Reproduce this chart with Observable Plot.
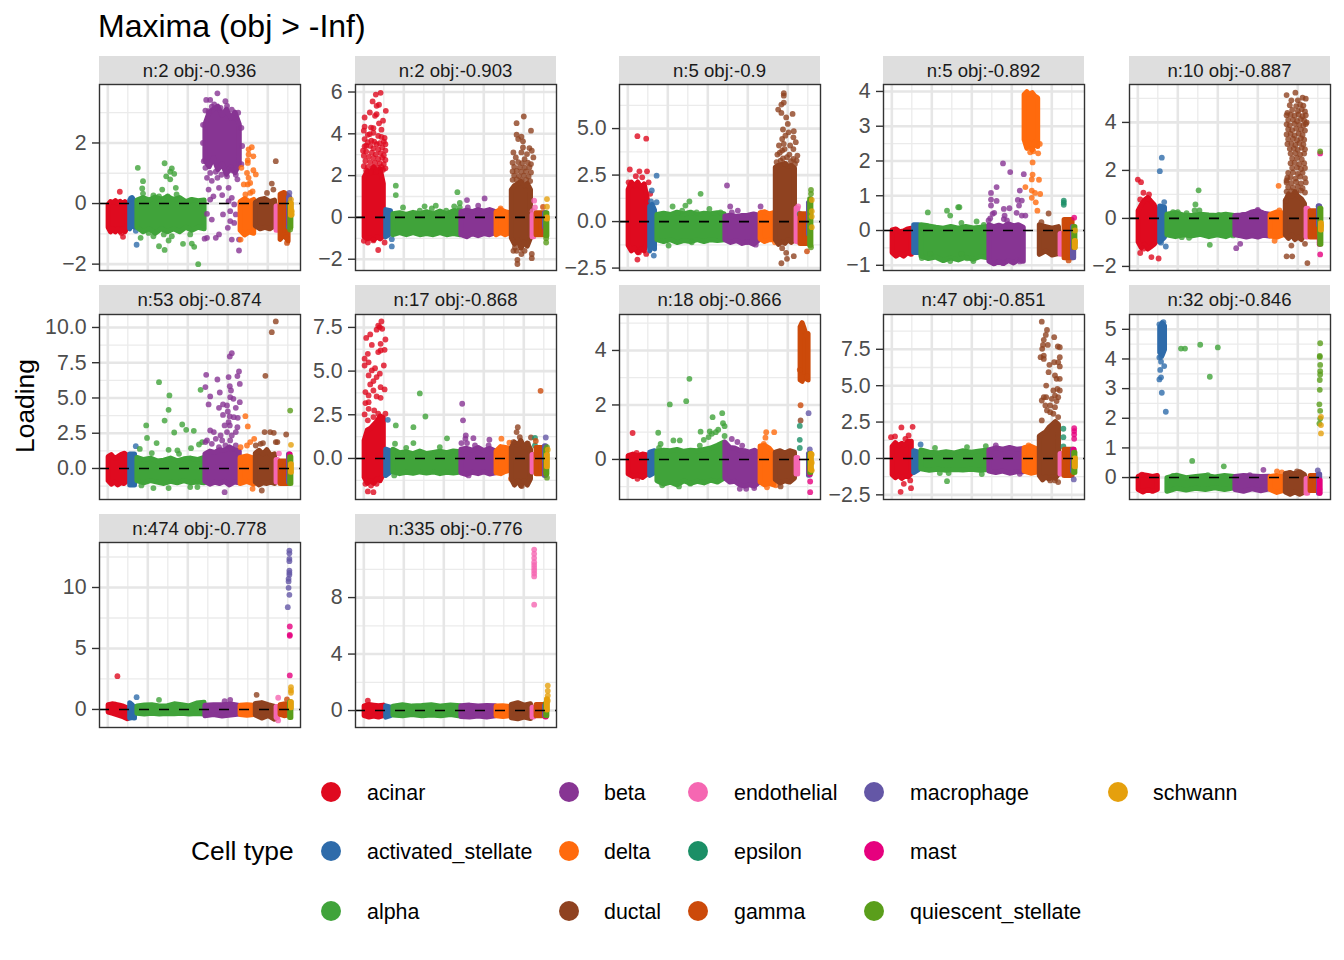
<!DOCTYPE html>
<html><head><meta charset="utf-8">
<script src="https://cdn.jsdelivr.net/npm/d3@7"></script>
<script src="https://cdn.jsdelivr.net/npm/@observablehq/plot@0.6"></script>
<style>
html,body{margin:0;padding:0;background:#fff;overflow:hidden}
#page{position:relative;width:1344px;height:960px;font-family:"Liberation Sans",Arial,sans-serif;color:#000}
.abs{position:absolute;white-space:nowrap}
.strip{position:absolute;background:#dedede;color:#1a1a1a;font-size:18.6px;text-align:center;width:201px}
.sw{position:absolute;width:20px;height:20px;border-radius:50%}
svg{overflow:visible}
</style></head><body><div id="page"></div>
<script>
const types=["acinar","activated_stellate","alpha","beta","delta","ductal","endothelial","epsilon","gamma","macrophage","mast","quiescent_stellate","schwann"];
const colors=["#DF0A1F","#2E6BAA","#40A33A","#873593","#FF6A0D","#8F4220","#F567B2","#1B8F66","#CC4A0A","#6457A6","#E6007E","#5A9E1B","#E5A00D"];
const typeStart=[1,28,37,122,166,185,211,214,216,226.5,227.5,228,229];
const typeEnd=[25,34,121,165,183,209,213,215,226,228,228.5,229.5,230];
const stripLabels=["n:2 obj:-0.936","n:2 obj:-0.903","n:5 obj:-0.9","n:5 obj:-0.892","n:10 obj:-0.887","n:53 obj:-0.874","n:17 obj:-0.868","n:18 obj:-0.866","n:47 obj:-0.851","n:32 obj:-0.846","n:474 obj:-0.778","n:335 obj:-0.776"];
const panelLeft=[99,355,619,883,1129,99,355,619,883,1129,99,355];
const panelTop=[84,84,84,84,84,314,314,314,314,314,542,542];
const panelHeight=[186,186,186,186,186,185,185,185,185,185,185,185];
const stripHeight=[28,28,28,28,28,29,29,29,29,29,28,28];
const yDomains=[[-2.21,3.93],[-2.54,6.36],[-2.63,7.37],[-1.15,4.2],[-2.17,5.58],[-2.2,10.92],[-2.35,8.24],[-1.47,5.32],[-2.82,9.89],[-.74,5.5],[-1.48,13.69],[-1.2,11.9]];
const yTicks=[[-2,0,2],[-2,0,2,4,6],[-2.5,0,2.5,5],[-1,0,1,2,3,4],[-2,0,2,4],[0,2.5,5,7.5,10],[0,2.5,5,7.5],[0,2,4],[-2.5,0,2.5,5,7.5],[0,1,2,3,4,5],[0,5,10],[0,4,8]];
const yDecimals=[0,0,1,0,0,1,1,0,1,0,0,0];
const xMajor=[0,50,100,150,200];
const xMinor=[25,75,125,175,225];

// Dense bands per cell type: pairs of low, high along the type's stretch of cells
const bands1=[[-.8,-.05,-.95,.05,-.85,.02,-.95,.08,-.85,0,-.95,.06,-.85,-.02,-.95,.05,-.8,-.02],[-.85,.1,-.7,.18,-.8,.05],[-.8,.1,-.95,.18,-.85,.1,-1,.2,-.85,.12,-.95,.22,-.85,.12,-.95,.18,-.8,.05,-.9,.12,-.8,.08,-.85,.1],[1.4,2.6,1.2,3,1.5,3.1,1.1,3.2,1.3,2.9,.95,3.1,1.2,2.8,1,3,1.3,2.6],[-.9,.05,-1.05,.15,-.95,.05,-1,.12],[-.75,.02,-.85,.12,-.8,.15,-.85,.05,-.75,.1],[-.9,-.1],null,[-1.2,.3,-1.05,.35,-1.25,.25],[-.8,.2],[-.7,-.2],[-.8,0],[-.4,0]];
const bands2=[[-.95,1.9,-1.05,2.2,-1,2.1,-1.1,2.4,-.95,2.2,-1.05,2.3,-.9,1.6],[-.95,.35,-.8,.3],[-.85,.15,-.75,.2,-.85,.12,-.75,.22,-.85,.15,-.8,.25,-.85,.15,-.75,.28,-.85,.15,-.8,.3,-.85,.3],[-.85,.25,-.95,.32,-.8,.25,-.9,.35,-.8,.28,-.85,.35,-.75,.25],[-.85,.25,-.75,.35,-.85,.25,-.75,.2],[-1,1.3,-1.3,1.5,-1.1,1.6,-1.5,1.7,-1.2,1.5,-1.4,1.6,-1,1.3],[-.95,.1],null,[-.85,.2],[-.5,.2],[-.8,-.5],[-.9,.2],[-.1,0]];
const bands3=[[-1.3,1.7,-1.6,2.1,-1.45,1.9,-1.7,2.1,-1.5,1.8,-1.6,2,-1.1,1.2],[-1.6,.8,-1.3,.9,-1.5,.6],[-1,.35,-1.1,.42,-1,.35,-1.15,.48,-1.05,.38,-1.1,.48,-1,.35,-1.1,.42,-1,.4,-1.05,.45,-1,.4],[-1,.28,-1.15,.32,-1.05,.25,-1.2,.3,-1.1,.32,-1.25,.38,-1,.3],[-.95,.45,-1.1,.5,-1,.38,-1,.45],[-1,2.9,-1.25,3,-1.1,3.05,-1.2,3.1,-1,2.95,-1.15,3,-1,2.85],[-1.1,.7],null,[-1.2,.4],[-.7,1],[-.1,.4],[-1.3,1.2],null];
const bands4=[[-.65,0,-.75,.03,-.68,-.05,-.75,-.03,-.65,.03,-.7,.05],[-.65,.15],[-.75,.15,-.82,.12,-.78,.08,-.88,.05,-.8,.1,-.86,.05,-.78,.1,-.84,.06,-.76,.08,-.8,.1],[-.9,.15,-.97,.1,-.9,.14,-.96,.1,-.88,.18,-.95,.12,-.85,.15,-.9,.08],[2.6,3.9,2.35,3.98,2.5,3.9,2.3,3.95,2.55,3.85,2.4,3.8],[-.7,.15,-.6,.1,-.72,.05,-.68,.1],[-.7,-.1],null,[-.8,.3],[-.8,.1],[-.5,-.1],[-.5,.1],[-.5,-.3]];
const bands5=[[-1,.3,-1.25,.55,-1.1,.75,-1.3,.85,-1.2,.7,-1.1,.55,-.9,.25],[-1,.5,-.8,.45],[-.7,.15,-.78,.22,-.7,.12,-.75,.1,-.68,.15,-.78,.12,-.7,.1,-.78,.15,-.65,.1],[-.7,.1,-.75,.12,-.8,.15,-.75,.25,-.8,.3,-.72,.2,-.75,.15],[-.75,.15,-.8,.25,-.7,.2],[-.7,.7,-.85,1,-.7,.9,-.9,1.1,-.8,.9,-.9,.8,-.7,.6],[-.8,.4],null,[-.8,.3],[-.3,.5],[-1.1,-.8],[-1.1,.4],[-.5,-.2]];
const bands6=[[-.9,.8,-1.15,.95,-1,.7,-1.2,.8,-1.05,.95,-1.1,1.05,-.9,.9],[-1.2,1],[-.9,.75,-1.05,.6,-.9,.7,-1,.5,-1.1,.55,-.95,.7,-1.05,.5,-.9,.65,-1.05,.7,-1,.6,-1.05,.75],[-.95,1,-1.15,1.2,-1,1.1,-1.1,1.3,-.95,1.25,-1.2,1.5,-1,1.3,-1.05,1.2],[-1.1,.75,-.95,.85,-1.15,.7],[-1,1.05,-1.2,1.25,-1.05,1,-1.1,1.3,-1,.9,-1.1,1],[-1,.6],null,[-1.1,.5],[-1,1],[-.5,1],[-1.1,.8],[-.3,.3]];
const bands7=[[-1.1,1,-1.45,1.6,-1.3,1.7,-1.45,1.9,-1.2,2.1,-1.3,2.4,-.9,2.3],[-1,.5,-.8,.4],[-.8,.5,-.9,.3,-.82,.35,-.88,.25,-.8,.4,-.86,.25,-.8,.32,-.9,.38,-.82,.3,-.86,.4,-.8,.35],[-.85,.5,-.95,.55,-.82,.45,-.9,.6,-.8,.42,-.92,.55,-.85,.4],[-.85,.4,-.9,.65,-.78,.6,-.7,.55],[-1.2,.6,-1.55,.9,-1.3,.75,-1.6,1,-1.3,.6,-1.55,.85,-1.2,.5],[-.8,.2],null,[-.9,.6],[-1,.7],[-.9,-.3],[-.9,.5],[-.5,.2]];
const bands8=[[-.55,.12,-.65,.18,-.6,.12,-.68,.18,-.55,.15],[-.6,.25,-.5,.3],[-.8,.28,-.92,.32,-.85,.3,-.95,.35,-.8,.28,-.9,.32,-.82,.3,-.88,.35,-.78,.4,-.85,.5,-.7,.62],[-.7,.62,-.85,.42,-.82,.4,-.95,.32,-1,.3,-.95,.25,-1,.32,-.85,.22],[-.85,.48,-.95,.5,-.9,.4,-.95,.2],[-.75,.25,-.88,.3,-.8,.22,-.85,.3,-.7,.25],[-.55,.05],null,[2.9,4.85,2.85,5,3,4.8,2.95,4.55,2.9,4.6],[-.6,.2],[-.5,-.3],[-.5,.2],[-.4,.2]];
const bands9=[[-1.15,.8,-1.35,1.05,-1.2,.85,-1.4,1,-1.25,.9,-1.3,1.15,-1.05,1.15],[-1,.5,-.8,.4],[-.75,.55,-.85,.4,-.78,.35,-.85,.42,-.8,.35,-.82,.5,-.78,.4,-.85,.48,-.8,.55],[-.9,.55,-1,.7,-.9,.6,-1.05,.72,-.95,.6,-.95,.65],[-.9,.7,-1.05,.8,-.95,.6],[-1.2,1.5,-1.5,1.65,-1.3,1.8,-1.45,2.1,-1.3,2.3,-1.4,2.5,-1.1,2.3],[-1.1,.3],null,[-1.2,.6],[-.9,.6],[-.6,.6],[-1,.4],[-.6,0]];
const bands10=[[-.42,.02,-.5,.08,-.42,.05,-.48,.02,-.42,.05],[4.2,5.05,4.1,5.2,4.3,5.1],[-.48,-.02,-.38,.06,-.44,-.02,-.38,.02,-.42,.05,-.36,0,-.42,.05,-.36,.02],[-.42,.02,-.48,.05,-.4,.04,-.46,.02,-.4,.03],[-.42,.02,-.52,.05,-.45,0],[-.5,.12,-.58,.15,-.5,.1,-.58,.18,-.5,.08],[-.55,-.05],null,[-.45,.05],[-.55,.1],[-.55,-.1],null,null];
const bands11=[[-.25,.35,-.35,.42,-.45,.38,-.55,.3,-.65,.22,-.8,.1],[-.75,.5,-.7,.35,-.75,.1],[-.35,.25,-.42,.32,-.35,.35,-.42,.25,-.38,.25,-.4,.42,-.35,.35,-.42,.25,-.38,.48,-.42,.55],[-.55,.3,-.45,.35,-.58,.35,-.5,.4,-.42,.28],[-.45,.3,-.52,.35,-.45,.3],[-.5,.45,-.75,.52,-.55,.35,-.85,.2],[-.7,.2],null,[-.45,.35,-.55,.42,-.5,.35],null,null,[-.7,.6],[.1,.6]];
const bands12=[[-.4,.3,-.5,.4,-.42,.35,-.5,.3,-.4,.35],[-.5,.3,-.4,.2],[-.35,.28,-.4,.38,-.32,.28,-.4,.32,-.35,.38,-.4,.28,-.32,.35,-.42,.3],[-.45,.3,-.5,.35,-.42,.28,-.5,.32,-.4,.3],[-.4,.28,-.45,.3,-.4,.25],[-.55,.4,-.62,.52,-.5,.35,-.6,.45],[-.5,.2],null,[-.4,.4],[-.4,.3],[-.5,-.1],[-.4,.5],[0,.8]];

// Individually read points: x (cell position), y (loading) pairs
const dots1={acinar:[15,.39,19,-1.1,17,-.97],activated_stellate:[29,.17,36,-1.36,35,-.9],
alpha:[37.5,1.18,44,.74,43,.5,44,.33,71,1.33,80,1.16,78,1.05,83,.98,73,.9,78,.8,85,.52,68,.46,57,.27,75,.24,86,.3,64,.24,103,.1,41,-1.13,64,-1.41,71,-1.53,76,-1.22,94,-1.33,105,-1.32,108,-1.43,113,-2,57,-1.08,80,-1.08,103,-1.02,51,-.97,70,-1.02],
beta:[137,3.64,123,3.42,128,3.42,147,3.38,133,3.27,149,3.22,141,3.16,122,3.07,126,3.05,163,3,160,2.83,122,1.18,128,1.01,124,.85,137,.85,149,.9,126,.46,139,.52,151,.52,162,.8,132,.24,128,.13,143,.28,155,.19,151,.08,158,-.03,124,-.34,144,-.36,153,-.25,160,-.36,130,-.53,153,-.58,158,-.64,150,-.8,139,-1.02,135,-1.13,124,-1.13,121,-1.16,155,-1.19,164,-1.19,164,-1.55,135,1.05,142,.95,155,1.1,160,.95,130,.75,120,1.4,167,1.3,168,1.9,119,2,119,2.6,167,2.5,130,3.2,155,3.1],
delta:[176,1.79,180,1.86,182,1.56,176,1.62,175,1.43,175,1.34,167,1.18,182,1.1,174,1.01,185,.96,176,.85,178,.68,170,.63,175,.63,166,-1.19,172,.3,178,.35,181,.4],
ductal:[210,1.4,205,.66,207,.46,199,.35],gamma:[224,-1.3,223,-1.1],macrophage:[227,.35],quiescent_stellate:[228,-.86],schwann:[229,.13,230,-.25,230,-.36]};
const dots2={acinar:[21,5.96,15,5.88,11,5.55,19,5.39,16,5.34,27.5,5.1,7.5,5.02,1,4.78,16,4.94,14,4.86,24,4.63,19,4.5,1,4.34,12,4.27,0,4.15,22,4.2,7.5,3.99,18,3.9,26,3.8,1,3.75,9.5,3.67,16,3.5,3,3.43,27,3.5,12,4.05,22,3.85,5,3.95,9,4.3,-1,3.19,18,-1.56,0,-1.12,5,-1.2,26,-1.2,12,-1.1,
5,3.6,13,3.62,20,3.55,25,3.62,1,3.4,8,3.42,12,3.3,18,3.25,23,3.35,27,3.2,3,3.15,10,3.1,15,3.02,21,3.08,25,2.98,0,2.95,6,2.9,12,2.85,18,2.8,23,2.85,27,2.75,2,2.7,8,2.65,14,2.62,20,2.58,25,2.55,0,2.45,5,2.42,11,2.4,17,2.38,22,2.42,27,2.35,3,2.25,9,2.2,15,2.18,24,2.28],
activated_stellate:[35,-1.04,35,-1.39],alpha:[40,1.52,40,1.07,117,1.21,120,.69,49,.48,76,.53,85,.43,90,.56,113,.53,70,.32,103,.32,120,.48],beta:[129,.83,151,.91,143,.56,130,.48],delta:[171,.43],
ductal:[200,4.83,191,4.51,209,4.15,191,3.96,197,3.86,193,3.75,199,3.64,199,3.35,207,3.32,210,3.19,187,3.11,197,3.11,204,3.03,190,2.87,212,2.87,201,2.79,187,-1.6,191,-1.6,197,-1.75,210,-1.95,192,-2.03,192,-2.23,189,-1.44,201,-1.6,210,-1.75,
186,2.62,193,2.65,198,2.6,205,2.62,209,2.55,188,2.42,195,2.4,201,2.38,207,2.4,186,2.2,191,2.22,197,2.18,203,2.2,209,2.15,188,2,194,1.98,200,2,206,1.96,186,1.8,191,1.82,197,1.78,203,1.8,208,1.74],
endothelial:[213,.8,214,.48,211,.3],gamma:[224,.5],quiescent_stellate:[228,-1.2,228,-1],schwann:[229,.88,229,.51]};
const dots3={acinar:[12,4.59,23,4.46,2.5,2.8,14.5,2.7,24,2.7,10,2.44,18,2.38,26,2.11,1,2.11,12,-2.04,23,-1.74,14,-1.65,28,1.49],activated_stellate:[36,2.47,30,1.67,29,1.09,36,1.04,32.5,-1.83],
alpha:[91,1.49,77,1.08,72,.86,56,.81,68,.59,102,.68,86,.5,51,-1.29,80,-1.11,62,.45,116,.5],beta:[124,1.94,128,.81,137.5,.59,166,.81,130,.5,160,-1.24,149,-1.1],delta:[184,-1.11],
ductal:[195,6.9,195,6.77,195,6.4,192,6.29,188,6.02,192,5.84,206,5.79,198,5.6,200,5.25,194,4.95,207.5,4.86,201,4.8,197,4.62,193,4.44,207,4.53,210,4.27,195,4.18,189,4.09,203,4.09,207,3.9,193,3.82,187,3.6,212,3.55,199,3.46,207,3.37,191,3.28,211,3.28,197,3.1,193,-1.43,198,-1.68,199,-2,207.5,-1.86,192,-2.24,190,3.7,196,3.9,202,3.6,209,3.1,186,3.2,194,3.4,204,3.25],
endothelial:[213,.81,214,-1.1],epsilon:[215,.41],gamma:[224,-1.6],quiescent_stellate:[229,1.7,229,1.49,229,-1.38],schwann:[230,1.16,230,.56,230,.27,230,-.3]};
const dots4={alpha:[45,.52,69,.57,73,.43,83,.67,84.5,.67,106,.26,115,.16,87,.22,37.5,-.79,48,-.67,73,-.88,102,-.88,94,-.8,87,-.67],
beta:[139,1.93,148,1.68,165,1.62,131,1.25,124,1.08,160,1.15,124,.89,131,.85,157.5,.88,162.5,.86,124,.72,159,.72,140,.62,147,.64,128,.51,156,.51,141,.43,123,.35,126,.48,162.5,.43,167,.43,140,.33,144,.29,128,-.94,139,-.94,160,-.89,121,.29],
delta:[176,1.96,176,1.61,175,1.47,184,1.46,167,1.25,175,1.15,179,1.08,185.5,1.05,175,.94,180,.81,182,.57,173,2.25,177,2.28,183,2.22,169,2.44,185,2.49,175,2.35],ductal:[196,.49,187,.24],epsilon:[215,.86,215,.8,215,.74],gamma:[221,-.86],mast:[228,.37],schwann:[229,0,229,-.33]};
const dots5={acinar:[0,1.62,4,1.51,7,1.07,14,1,3,.79,13,.82,17,-1.61,26,-1.67,3,-1.44,7,-1.26],activated_stellate:[30,2.53,27.5,1.97,33,.68,29,-1.01,35,-1.17],alpha:[76,1.17,72,.58,71,.33,77,.33,44,.26,50,.26,61,.22,101,.15,90,-1.1,55,-.78,64,-.81,119,-.71],beta:[123,-1.24,128,-1.06,150,.36,146,.26,132,.15],delta:[176,1.36,171,-.93,177,.33],
ductal:[186,5.14,197,5.24,192,4.92,206,5.03,210,4.99,200,4.92,187,4.4,211,4,186,1.58,185,.75,192,-1.13,186,-1.58,193,-1.58,212,-1.86,209,-1.06,
190,4.72,198,4.68,203,4.75,207,4.7,193,4.52,200,4.48,205,4.55,209,4.46,186,4.3,191,4.32,196,4.28,201,4.33,206,4.26,210,4.3,188,4.1,194,4.12,199,4.06,204,4.14,208,4.08,186,3.92,190,3.88,196,3.94,202,3.9,207,3.87,210,3.93,188,3.72,193,3.68,198,3.74,204,3.7,209,3.66,186,3.5,191,3.52,196,3.46,201,3.54,206,3.48,188,3.3,194,3.32,199,3.26,204,3.34,208,3.28,187,3.1,192,3.12,197,3.06,202,3.14,207,3.08,190,2.9,195,2.92,200,2.86,205,2.94,209,2.88,191,2.7,197,2.72,203,2.66,208,2.7,193,2.5,199,2.52,205,2.46,191,2.3,196,2.32,202,2.26,208,2.3,193,2.1,199,2.12,204,2.06,209,2.1,188,1.9,194,1.92,200,1.86,206,1.9,187,1.7,191,1.72,197,1.66,203,1.74,209,1.68,186,1.5,192,1.48,198,1.52,204,1.46,210,1.5,188,1.3,194,1.28,200,1.32,206,1.26,186,1.12,192,1.14,198,1.1,204,1.16,209,1.08],endothelial:[213,.37],macrophage:[226,.51],mast:[228,2.71,228,-1.5],quiescent_stellate:[228,2.79],schwann:[229,-.3]};
const dots6={activated_stellate:[35,1.58],alpha:[64,6.12,77,5.18,116,5.58,76,4.16,71,3.4,48,3.05,49,2.17,93,3.12,83,2.55,98,2.74,107.5,2.67,61,1.8,104,1.44,76,1.32,87,1.28,114,1.7,118,1.87,55,1.09,40,1.39,42,-1.2,76,-1.39,57,-1.39,103,-1.32,112,-1.32,89,1.04],
beta:[155,8.18,152.5,7.94,164,6.88,123,6.64,151,6.48,137,6.31,162,6.55,165,6,122,5.77,152.5,5.84,154,5.53,140,5.39,128,5.11,153,5.06,157,4.94,126,4.54,165,4.7,139,4.3,144,4.54,149,4.47,160,4.3,150,4.04,144,3.8,152.5,3.69,157.5,3.64,162.5,3.59,151,3.29,152.5,3.05,146,3.05,162,2.93,128,2.7,132.5,2.58,149,2.58,160,2.58,141,2.34,155,2.34,124,1.99,135,2.1,143,1.99,153,1.99,122,1.87,130,1.75,147,1.63,160,1.63,139,1.51,155,1.39,146,-1.68],
delta:[172,3.71,175,2.98,183,2.1,178,1.87,166,1.51,174,1.63,181,-1.44],ductal:[210,10.43,205,9.67,197,6.57,196,2.58,203,2.58,207.5,2.53,210,1.87,212,1.87,185,1.63,191,1.75,194,1.8,192.5,-1.56,223,2.41],endothelial:[214,1.06],quiescent_stellate:[228,4.11],schwann:[229,1.68]};
const dots7={acinar:[22,7.84,20,7.52,23,7.42,16,7.37,18,7.6,8,7.1,3,6.9,27,6.81,10,6.5,21,6.56,26,6.22,18,6.09,21,6.18,5,5.99,1,5.71,6,5.5,1,5.32,25,5.32,14,5.17,10,5.04,20,4.85,6,4.75,16,4.66,12,4.43,8,4.24,21,4.08,26,3.95,2,3.8,12,3.89,16,3.55,6,3.61,21,3.47,2,3.17,6,3.22,6,2.84,13,2.75,1,2.52,18,2.56,5,2.18,12,2.37,27,2.56,5,-1.89,12,-1.93,2,-1.45,9,-1.55,16,-1.45],activated_stellate:[30,2.21],
alpha:[70,3.72,77,2.4,40,1.89,62,1.79,104,1.15,39,.84,62,.88,53,.61,95,.65,38,-.97],beta:[123,3.13,124,2.18,127.5,1.32,127,1.13,137,1.16,122,.88,129,.88,157,1.07,156,.74,131,-.97,139,.74],delta:[172,1.13,182,.9,184,-1.16],ductal:[192.5,1.79,191,1.51,195,1.22,209,1.2,205,.84,187,.94,197.5,-1.58],epsilon:[214,1.18,214,.74],gamma:[221,3.87,215,1],macrophage:[227.5,1.2],quiescent_stellate:[229,.65,229,-1.1],schwann:[230,.5]};
const dots8={acinar:[6,.97,11,.24,12,-.71],alpha:[77,2.96,52.5,2.02,73,2.14,118,1.7,106,1.55,119,1.33,121,1.22,91,1.02,38,.98,102.5,1.03,113,1.09,110,1,105,.94,121,.86,101,.82,95,.72,57,.7,65,.7,41,.57,90,.51,39,.42,64,-.99,43,-.95,78,-.89],beta:[130,.75,137,.64,140,-1.08,148,-1.08,158,-1.05,143,.51],delta:[173,1,183,1,172,.8,170,.57,174,-1.02,185,-.95],ductal:[191,-.99,216,1.43],epsilon:[215,1.23,215,.72,215,.42],gamma:[215,3.29,224,3.05,216,1.99],macrophage:[226,1.7,227.5,.37],mast:[228,-.53,228,-.81,228,-1.2],schwann:[230,.18,230,-.12,230,-.4]};
const dots9={acinar:[12,2.13,26,2.17,-1,1.46,4,1.51,15,-1.74,11,-2.29,24,-2.04,23,-1.51,21,1.58,17,1.35],activated_stellate:[36,.96],alpha:[69,-1.56,60,-1,71,-1,112.5,-1.07,54,.73,94,.78,117.5,.85],beta:[160,-1.05,130,.89],delta:[171,.89],
ductal:[187.5,9.4,194,8.83,192.5,8.49,203,8.33,190,8.15,189,7.8,195,7.8,207.5,7.69,210,7.64,188,7.53,190,7.07,186,6.96,190,6.84,210,6.96,210,6.32,197,6.43,203,6.61,208,6.61,196,5.93,204,5.7,206,5.47,210,5.47,193,5.01,207,4.78,202,4.67,210,4.67,190,4.21,204,4.32,208,4.21,187.5,3.98,193,4.21,200,4.1,206,3.94,192,3.64,198,3.64,204,3.52,194,3.3,202,3.07,187.5,2.61,198,3.18,208,2.84,198,-1.51,208,-1.62,204,-1.51],epsilon:[214.5,2.04,214.5,1.46,214.5,.82],macrophage:[227.5,-1.44],mast:[228,2.08,228,1.88,228,1.65,228,1.35]};
const dots10={acinar:[5,.1],activated_stellate:[32,5.24,27,5.17,29,4.08,27,4.05,29,3.91,33,3.76,28,3.63,29,3.38,27,3.31,30,2.86,35,2.22],alpha:[54,4.35,59,4.35,78,4.48,100,4.39,90,3.4,68,.56,107.5,.38,44,.06,87.5,.08],beta:[157,.26,140,.08],delta:[174,.21,180,.17],ductal:[199,.21,190,.16],macrophage:[225,.24],mast:[227,-.4],quiescent_stellate:[228,4.53,227.5,4.1,227.5,4.07,228,3.8,228,3.59,228,3.48,227.5,3.29,227.5,2.96,227,2.47,228,2.25,228,1.99,227,1.82],schwann:[229,2.05,229,1.77,229,1.49]};
const dots11={acinar:[12,2.73],activated_stellate:[36,1.01],alpha:[64,.79],beta:[146,.68,153,.79],ductal:[186,1.2],endothelial:[213,.96,213,-.9],gamma:[224,.82],macrophage:[227,13.03,227,12.8,227,12.35,227,12.16,227,11.39,227,11.2,227,11.04,226,10.71,226,10.5,226,9.97,227,9.4,225,8.39],mast:[227.5,6.8,227.5,6.12,227.5,6.04,227.5,2.79],schwann:[229,1.83,229,1.56,229,1.37]};
const dots12={acinar:[5,.7],endothelial:[213,11.4,213,11.1,213,10.8,213,10.5,213,10.3,213,10.1,213,9.9,213,9.7,213,9.5,213,7.5],schwann:[230,1.77,230,1.4,230,1.06,230,.7]};

const allBands=[bands1,bands2,bands3,bands4,bands5,bands6,bands7,bands8,bands9,bands10,bands11,bands12];
const allDots=[dots1,dots2,dots3,dots4,dots5,dots6,dots7,dots8,dots9,dots10,dots11,dots12];
const legendCols=[[0,1,2],[3,4,5],[6,7,8],[9,10,11],[12]];
const legendSwatchX=[321,559,688,864,1108];
const legendTextX=[367,604,734,910,1153];
const legendRowY=[792,851,911];

const page=document.getElementById("page");
const FONT="'Liberation Sans',Arial,sans-serif";
function addText(txt,css){const d=document.createElement("div");d.className="abs";d.textContent=txt;d.style.cssText+=css;page.appendChild(d);return d;}
addText("Maxima (obj > -Inf)","left:98px;top:8px;font-size:32px;line-height:37px;");
addText("Loading","left:-23px;top:391px;width:96px;text-align:center;font-size:26.4px;line-height:30px;transform:rotate(-90deg);");
addText("Cell type","left:191px;top:836px;font-size:26.4px;line-height:30px;");

const ML=62,PAD=3;
stripLabels.forEach((label,p)=>{
  const L=panelLeft[p],T=panelTop[p],H=panelHeight[p],SH=stripHeight[p];
  const s=document.createElement("div");s.className="strip";s.textContent=label;
  s.style.left=L+"px";s.style.top=(T-SH)+"px";s.style.height=SH+"px";s.style.lineHeight=(SH+1)+"px";page.appendChild(s);
  const dom=yDomains[p],ticks=yTicks[p],step=ticks[1]-ticks[0];
  const minor=d3.range(ticks[0]-step*3.5,dom[1],step).filter(v=>v>dom[0]&&v<dom[1]);
  const marks=[
    Plot.ruleY(minor,{stroke:"#ebebeb",strokeWidth:1.3}),
    Plot.ruleX(xMinor,{stroke:"#ebebeb",strokeWidth:1.3}),
    Plot.ruleY(ticks,{stroke:"#e6e6e6",strokeWidth:2.6}),
    Plot.ruleX(xMajor,{stroke:"#e6e6e6",strokeWidth:2.6})
  ];
  types.forEach((t,i)=>{
    const b=allBands[p][i];
    if(b){
      const pairs=b.length===2?[b[0],b[1],b[0],b[1]]:b;
      const n=pairs.length/2,rows=[];
      for(let j=0;j<n;j++)rows.push({x:typeStart[i]+(typeEnd[i]-typeStart[i])*j/(n-1),lo:pairs[2*j],hi:pairs[2*j+1]});
      marks.push(Plot.areaY(rows,{x:"x",y1:"lo",y2:"hi",fill:colors[i],stroke:colors[i],strokeWidth:5,strokeLinejoin:"round"}));
    }
    const f=allDots[p][t];
    if(f){
      const pts=[];for(let j=0;j<f.length;j+=2)pts.push({x:f[j],y:f[j+1]});
      marks.push(Plot.dot(pts,{x:"x",y:"y",r:2.9,fill:colors[i],fillOpacity:.8,stroke:"none"}));
    }
  });
  marks.push(Plot.ruleY([0],{stroke:"#000",strokeWidth:1.6,strokeDasharray:"10,10"}));
  marks.push(Plot.frame({stroke:"#333",strokeWidth:1.4}));
  marks.push(Plot.axisY(ticks,{tickSize:7,tickPadding:6,stroke:"#333",strokeWidth:1.4,fill:"#4d4d4d",fontSize:21.3,label:null,
    tickFormat:yDecimals[p]?d3.format(".1f"):d3.format("d")}));
  const svg=Plot.plot({width:ML+201+PAD,height:H+2*PAD,marginLeft:ML,marginRight:PAD,marginTop:PAD,marginBottom:PAD,
    x:{domain:[-10.4,240.9],axis:null},y:{domain:dom,axis:null},
    style:{fontFamily:FONT,background:"transparent"},marks});
  svg.style.position="absolute";svg.style.left=(L-ML)+"px";svg.style.top=(T-PAD)+"px";
  page.appendChild(svg);
});
legendCols.forEach((col,c)=>col.forEach((i,r)=>{
  const sw=document.createElement("div");sw.className="sw";sw.style.background=colors[i];
  sw.style.left=legendSwatchX[c]+"px";sw.style.top=(legendRowY[r]-10)+"px";page.appendChild(sw);
  addText(types[i],`left:${legendTextX[c]}px;top:${legendRowY[r]-13}px;font-size:21.4px;line-height:28px;`);
}));
</script></body></html>
